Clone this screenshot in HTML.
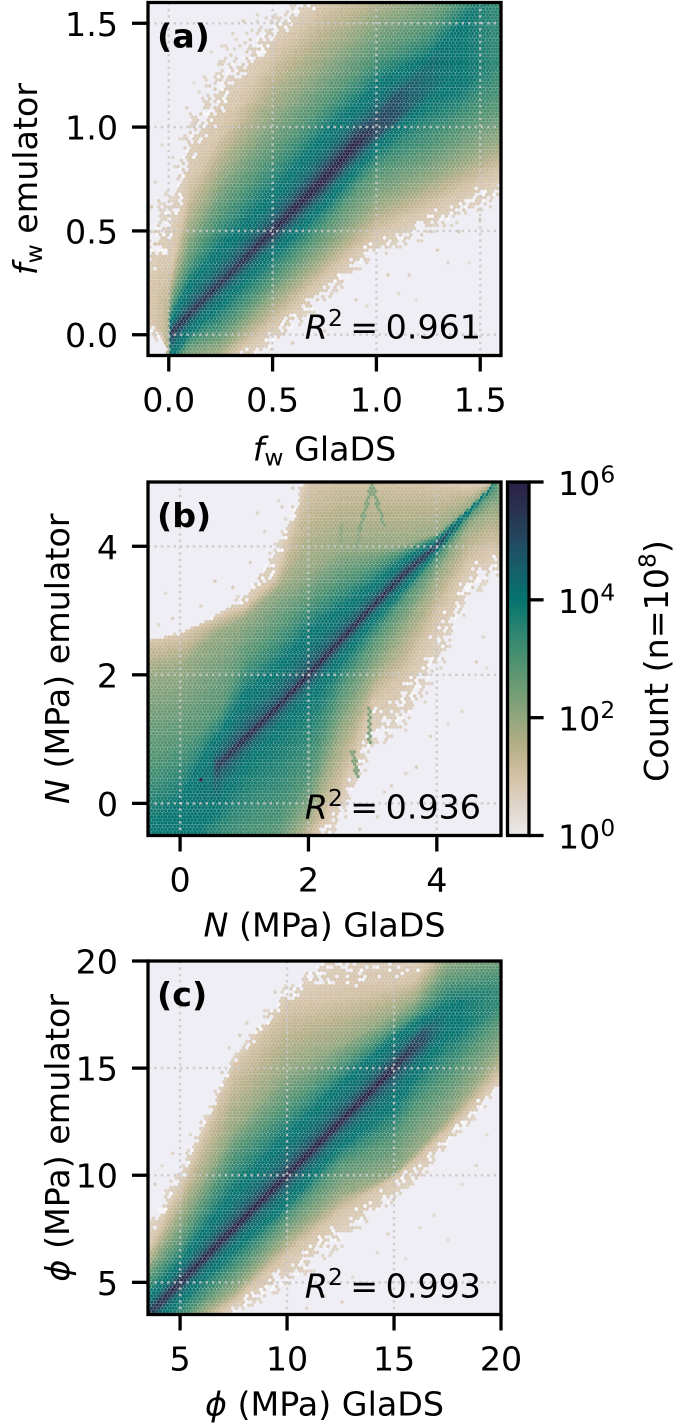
<!DOCTYPE html>
<html>
<head>
<meta charset="utf-8">
<title>Emulator versus GlaDS density plots</title>
<style>
html,body{margin:0;padding:0;background:#fff;}
svg{display:block;}
text{font-family:"DejaVu Sans","Liberation Sans",sans-serif;font-size:33.3px;fill:#000;}
.it{font-style:italic;}
</style>
</head>
<body>
<svg id="figure" xmlns="http://www.w3.org/2000/svg" width="684" height="1426" viewBox="0 0 684 1426"></svg>
<script>
// ---------- Panel (a): fw. Stations along x and the y of each count contour ----------
const aStations=[-0.1,-0.03,-0.005,0.012,0.1,0.25,0.5,0.75,0.9,1.0,1.25,1.6];
const aLow0=[-0.03,-0.04,-0.12,-0.3,-0.4,-0.23,-0.09,0.12,0.26,0.345,0.457,0.62];
const aLow1=[0.1,0.0,-0.1,-0.25,-0.2,-0.14,0.05,0.28,0.41,0.49,0.617,0.79];
const aLow2=[0.1,0.02,-0.1,-0.2,-0.11,-0.07,0.17,0.39,0.53,0.63,0.745,0.94];
const aLow3=[0.1,0.04,-0.1,-0.15,-0.04,0.024,0.26,0.52,0.7,0.79,0.9,1.13];
const aLow4=[0.1,0.06,-0.1,-0.12,0.01,0.136,0.38,0.617,0.78,0.89,1.11,1.3];
const aLow5=[0.1,0.08,-0.1,-0.02,0.08,0.23,0.465,0.7,0.865,0.96,1.16,1.42];
const aRidge=[0.15,0.12,0.0,0.01,0.1,0.25,0.5,0.753,0.92,1.0,1.22,1.55];
const aUp5=[0.15,0.14,0.02,0.025,0.125,0.275,0.535,0.81,0.975,1.05,1.3,1.65];
const aUp4=[0.15,0.16,0.04,0.08,0.25,0.42,0.68,0.97,1.1,1.21,1.34,1.7];
const aUp3=[0.15,0.18,0.06,0.13,0.345,0.585,0.86,1.11,1.25,1.34,1.47,1.8];
const aUp2=[0.15,0.2,0.08,0.2,0.49,0.76,1.08,1.32,1.45,1.53,1.64,1.9];
const aUp1=[0.2,0.28,0.3,0.3,0.71,0.97,1.34,1.59,1.66,1.7,1.8,2.0];
const aUp0=[0.55,0.7,0.75,0.75,1.13,1.4,1.56,1.77,1.85,1.95,2.0,2.2];
const aPeak=[0.9,1.2,1.5,5.7,5.6,5.6,5.9,6,6,5.2,4.6,3.4];
const aStrayX=[-0.08,-0.06,-0.04,-0.07,0.02,0.05,-0.05,0.08,0.12,0.1,0.17,0.15,0.2,0.22,0.28,0.31,0.36,0.4,0.42,0.44,0.9,0.95,1.05,1.1,1.15,1.2,1.3,1.35,1.4,1.5,1.55,1.45,0.75,0.8,0.6,0.35];
const aStrayY=[0.62,0.75,0.9,0.45,0.85,0.95,0.65,1.1,1.2,0.92,1.25,1.05,1.35,1.18,1.32,1.45,1.5,1.42,1.55,1.48,0.18,0.13,0.28,0.2,0.3,0.16,0.42,0.35,0.5,0.55,0.62,0.34,0.02,0.08,-0.05,-0.07];
const aStrayLevel=[0.8,0.5,0.4,0.9,0.5,0.4,0.7,0.6,0.4,0.7,0.5,0.7,0.4,0.8,0.6,0.6,0.7,0.8,0.5,0.5,0.6,0.4,0.7,0.5,0.6,0.3,0.7,0.5,0.8,0.7,0.6,0.3,0.6,0.5,0.7,0.4];
const aXTicks=[0,0.5,1,1.5];
const aYTicks=[0,0.5,1,1.5];
const aTickLabels=["0.0","0.5","1.0","1.5"];

// ---------- Panel (b): N ----------
const bStations=[-0.5,0,0.5,0.6,1,1.5,2,2.5,3,3.5,4,4.5,4.85,5];
const bLow0=[-1.8,-1.8,-1.8,-1.7,-1.5,-1.4,-1.1,-0.39,0.65,1.01,1.79,3.04,3.4,3.3];
const bLow1=[-1.6,-1.6,-1.6,-1.5,-1.3,-1.2,-0.65,0.18,1.58,2.0,2.93,3.76,3.97,3.9];
const bLow2=[-1.4,-1.4,-1.2,-1.15,-1.0,-0.9,-0.2,1.1,2.0,2.72,3.55,4.33,4.6,4.6];
const bLow3=[-1.2,-1.2,-0.9,-0.85,-0.6,-0.4,0.4,1.74,2.52,3.19,3.81,4.47,4.86,4.95];
const bLow4=[-0.8,-0.8,-0.2,-0.1,0.54,1.05,1.58,2.2,2.83,3.35,3.92,4.5,4.88,5.0];
const bLow5=[-0.7,-0.7,0.3,0.54,0.92,1.41,1.93,2.47,3.01,3.52,3.97,4.52,4.9,5.05];
const bRidge=[-0.55,-0.3,0.5,0.6,1.0,1.48,2.0,2.54,3.06,3.58,4.0,4.54,4.91,5.1];
const bUp5=[-0.55,-0.3,0.65,0.66,1.08,1.55,2.08,2.61,3.13,3.64,4.04,4.56,4.92,5.12];
const bUp4=[-0.4,0.05,0.96,1.05,1.69,2.1,2.67,3.03,3.4,3.81,4.1,4.57,4.93,5.14];
const bUp3=[0.6,0.9,1.32,1.4,2.2,2.67,3.14,3.45,3.7,3.94,4.15,4.59,4.94,5.16];
const bUp2=[2.0,2.1,2.6,2.65,2.88,3.3,3.6,3.97,4.0,4.02,4.2,4.61,4.95,5.18];
const bUp1=[2.52,2.62,2.86,2.9,3.06,3.5,5.0,5.2,5.2,5.1,5.0,4.9,4.97,5.2];
const bUp0=[2.56,2.66,2.92,2.96,3.35,4.1,5.3,5.4,5.4,5.3,5.3,5.1,5.0,5.22];
const bPeak=[4.1,4.1,4.4,5.6,5.9,6,6,6,5.9,5.7,5.3,4.0,3.8,2];
const bStrayX=[0.35,-0.35,-0.2,-0.1,0.3,0.55,0.8,1.1,1.3,1.45,1.6,1.75,3.3,3.5,3.7,3.9,4.2,4.4,4.6,3.1,2.8,4.7,4.8,2.4,2.6,3.2,1.55,1.2];
const bStrayY=[0.37,2.8,3.3,2.9,3.1,3.5,3.4,3.7,4.2,3.7,4.6,4.9,0.3,0.5,0.6,1.0,1.2,1.4,2.2,-0.2,-0.4,2.6,2.1,-0.45,-0.25,0.15,4.75,4.55];
const bStrayLevel=[6,0.5,0.4,0.6,0.6,0.7,0.7,0.6,0.5,0.8,0.6,0.7,0.6,0.5,0.7,0.6,0.4,0.5,0.6,0.6,0.7,0.5,0.4,0.7,0.6,0.5,0.4,0.5];
const bXTicks=[0,2,4];
const bYTicks=[0,2,4];
const bTickLabels=["0","2","4"];
// thin secondary filaments in the N panel: x list, y list, one filament per row
const bFilamentX=[[2.99,2.8,2.72],[2.99,3.18],[2.52,2.52,2.6],[2.96,2.95],[2.69,2.77]];
const bFilamentY=[[4.95,4.28,3.8],[4.95,4.33],[4.33,3.95,3.7],[1.48,0.96],[0.8,0.39]];
const bFilamentLevel=[2.2,2.2,2.1,2.2,2.2];

// ---------- Panel (c): phi ----------
const cStations=[3.5,5,7.5,10,12.5,15,16,17.5,20];
const cLow0=[1.0,1.5,3.4,4.3,6.45,8.48,9.27,11.1,14.0];
const cLow1=[1.6,2.4,4.1,6.3,8.3,9.9,10.7,12.1,14.7];
const cLow2=[2.0,2.9,4.58,7.1,9.1,10.05,11.1,12.7,15.8];
const cLow3=[2.4,3.3,5.5,8.0,10.5,11.77,13.2,14.6,17.4];
const cLow4=[2.8,4.1,6.45,8.64,11.3,13.17,14.6,16.45,17.8];
const cLow5=[3.25,4.75,7.25,9.72,12.22,14.72,15.8,17,18];
const cRidge=[3.5,5.0,7.5,10,12.5,15,16.06,17.4,18.17];
const cUp5=[3.75,5.25,7.8,10.32,12.82,15.32,16.35,17.7,18.4];
const cUp4=[4.27,5.98,9.27,11.9,14.27,16.45,17.1,17.9,18.7];
const cUp3=[5.1,6.77,11,13.3,15.2,16.9,17.55,19,19.5];
const cUp2=[5.7,8,12.2,15,16.14,17.55,18.17,20.05,20.5];
const cUp1=[6.45,9.27,15.05,17.9,18.4,18.9,19.2,21,21];
const cUp0=[8.2,10.5,15.6,19,21.5,21.5,21.5,21.5,21.5];
const cPeak=[5.5,5.9,6,6,6,6,5.3,4.2,3.4];
const cStrayX=[3.8,4.2,4.6,5.4,5.9,6.2,6.6,6.9,7.3,7.8,8.2,8.9,9.4,9.9,11,11.8,12.5,13.1,13.6,14.2,14.8,15.5,16.2,16.9,17.6,18.2,18.9,19.4,13,13.8,14.6];
const cStrayY=[9.5,10.4,11,11.8,12.6,12.9,14,14.8,15.9,16.6,17.2,17.6,18.5,18.9,3.8,4.4,4.1,5.3,4.9,6.4,7.2,6.1,7.5,8.2,6.9,9.6,10.5,11.8,18.5,18.3,17.8];
const cStrayLevel=[0.6,0.4,0.6,0.5,0.7,0.5,0.6,0.7,0.5,0.7,0.6,0.5,0.6,0.4,0.5,0.5,0.6,0.4,0.5,0.4,0.5,0.3,0.4,0.4,0.3,0.4,0.5,0.4,0.05,0.05,0.05];
const cXTicks=[5,10,15,20];
const cYTicks=[5,10,15,20];
const cTickLabels=["5","10","15","20"];

// ---------- Colour bar ----------
const cbarTicks=[0,2,4,6];
const cmapLevels=[0,0.5,1,1.5,2,2.5,3,3.5,4,4.5,5,5.5,6];
const cmapColors=["#eceaed","#dfd5ca","#d5c2a6","#b7b089","#92a67d","#6e9b75","#4c9170","#2a8470","#06746f","#15606a","#224a60","#29344f","#2b2047"];

const NS="http://www.w3.org/2000/svg";
const svg=document.getElementById('figure');
function rgb(h){return [parseInt(h.substr(1,2),16),parseInt(h.substr(3,2),16),parseInt(h.substr(5,2),16)];}
function colorOf(l){
  l=Math.max(0,Math.min(6,l));
  var i=Math.min(cmapLevels.length-2,Math.floor(l/0.5));
  var t=(l-cmapLevels[i])/(cmapLevels[i+1]-cmapLevels[i]);
  var a=rgb(cmapColors[i]),b=rgb(cmapColors[i+1]);
  return 'rgb('+Math.round(a[0]+(b[0]-a[0])*t)+','+Math.round(a[1]+(b[1]-a[1])*t)+','+Math.round(a[2]+(b[2]-a[2])*t)+')';
}
function el(tag,attrs,parent){
  var e=document.createElementNS(NS,tag);
  for(var k in attrs)e.setAttribute(k,attrs[k]);
  (parent||svg).appendChild(e);
  return e;
}
function lerpAt(xs,ys,x){
  if(x<=xs[0])return ys[0];
  for(var i=1;i<xs.length;i++){
    if(x<=xs[i]){var t=(x-xs[i-1])/(xs[i]-xs[i-1]);return ys[i-1]+(ys[i]-ys[i-1])*t;}
  }
  return ys[ys.length-1];
}
// fixed per-bin texture value: only decides which very-low-count bins are occupied
function texture(i,j,k){var v=Math.sin(i*12.9898+j*78.233+k*37.719)*43758.5453;return v-Math.floor(v);}
// Adds text built from runs: [string, {italic, script:'sup'|'sub'}]
function richText(parent,x,y,anchor,runs,name,rotate){
  var t=el('text',{x:x,y:y,'text-anchor':anchor},parent);
  if(rotate)t.setAttribute('transform','rotate(-90 '+x+' '+y+')');
  
  
  var shift=0;
  runs.forEach(function(r){
    var s=document.createElementNS(NS,'tspan');
    s.textContent=r[0];
    var o=r[1]||{};
    if(o.italic)s.setAttribute('font-style','italic');
    if(o.dx)s.setAttribute('dx',o.dx);
    var target=o.script==='sup'?-12.5:(o.script==='sub'?5:0);
    if(target!==shift){s.setAttribute('dy',target-shift);shift=target;}
    if(o.script)s.setAttribute('font-size','23.3');
    t.appendChild(s);
  });
  return t;
}

function drawPanel(p){
  var g=el('g',{});
  
  
  var W=p.right-p.left,H=p.bottom-p.top;
  var sx=function(v){return p.left+(v-p.xMin)/(p.xMax-p.xMin)*W;};
  var sy=function(v){return p.bottom-(v-p.yMin)/(p.yMax-p.yMin)*H;};
  var clipId='clip-'+p.key;
  var defs=el('defs',{},g);
  var cp=el('clipPath',{id:clipId},defs);
  el('rect',{x:p.left,y:p.top,width:W,height:H},cp);
  var bg=el('rect',{x:p.left,y:p.top,width:W,height:H,fill:'#efeef4'},g);
  
  
  var marks=el('g',{'clip-path':'url(#'+clipId+')'},g);

  var cols=[p.low0,p.low1,p.low2,p.low3,p.low4,p.low5,p.ridge,p.up5,p.up4,p.up3,p.up2,p.up1,p.up0];
  var base=[0,1,2,3,4,5,6,5,4,3,2,1,0];
  var nx=100,ny=57;
  var dx=(p.xMax-p.xMin)/nx,dy=(p.yMax-p.yMin)/ny;
  var pdx=W/nx,pdy=H/ny;
  var buckets={};
  function hexPath(px,py){
    var k=0.95,a=pdx*0.5*k,b=pdy/6*k;
    return 'M'+(px+a).toFixed(1)+' '+(py-b).toFixed(1)+'v'+(2*b).toFixed(2)+'l'+(-a).toFixed(2)+' '+b.toFixed(2)+'l'+(-a).toFixed(2)+' '+(-b).toFixed(2)+'v'+(-2*b).toFixed(2)+'l'+a.toFixed(2)+' '+(-b).toFixed(2)+'z';
  }
  function addHex(x,y,level){
    var b=level<0?-1:Math.round(Math.min(6,level)*10);
    (buckets[b]=buckets[b]||[]).push(hexPath(sx(x),sy(y)));
  }
  function profileAt(x){
    var peak=lerpAt(p.stations,p.peak,x),pos=[],lev=[],prev=-1e9;
    for(var i=0;i<13;i++){
      var v=lerpAt(p.stations,cols[i],x);
      if(v<prev)v=prev;
      prev=v;
      pos.push(v);
      lev.push(i===6?peak:Math.min(base[i],peak));
    }
    return {pos:pos,lev:lev};
  }
  function levelIn(pr,y){
    var pos=pr.pos,lev=pr.lev;
    if(y<=pos[0]||y>=pos[12])return -1;
    for(var i=1;i<13;i++){
      if(y<=pos[i]){
        var d=pos[i]-pos[i-1],l;
        if(d<=0)l=lev[i];
        else l=lev[i-1]+(lev[i]-lev[i-1])*(y-pos[i-1])/d;
        // the teal plateau holds around 10^4 and darkens only close to the ridge
        if(l>4&&l<5)l=4+Math.pow(l-4,2.2);
        return l;
      }
    }
    return -1;
  }
  // hexagonal bins: two staggered lattices
  [0,1].forEach(function(lattice){
    var off=lattice*0.5;
    for(var i=-1;i<=nx+1;i++){
      var x=p.xMin+(i+off)*dx;
      var pr=profileAt(x);
      for(var j=-1;j<=ny+1;j++){
        var y=p.yMin+(j+off)*dy;
        var l=levelIn(pr,y);
        // filaments raise the count of bins lying on them
        if(p.filX){
          for(var f=0;f<p.filX.length;f++){
            var fx=p.filX[f],fy=p.filY[f];
            for(var s=1;s<fx.length;s++){
              var ax=sx(fx[s-1]),ay=sy(fy[s-1]),bx=sx(fx[s]),by=sy(fy[s]);
              var qx=sx(x),qy=sy(y),vx=bx-ax,vy=by-ay;
              var t=((qx-ax)*vx+(qy-ay)*vy)/(vx*vx+vy*vy);
              t=Math.max(0,Math.min(1,t));
              var ex=ax+t*vx-qx,ey=ay+t*vy-qy;
              if(ex*ex+ey*ey<3.6&&l<p.filLevel[f])l=p.filLevel[f];
            }
          }
        }
        if(l<0)continue;
        if(l<1){
          // below about one count per bin, only a share of the bins are occupied
          if(texture(i,j,lattice)<l*1.1)addHex(x,y,0.45+0.55*l);
          else if(l>0.3&&texture(j,i,lattice+2)<0.3)addHex(x,y,-1);
          continue;
        }
        addHex(x,y,l);
      }
    }
  });
  // isolated bins outside the main cloud, snapped to the hexagonal lattice
  p.strayX.forEach(function(x,i){
    var y=p.strayY[i];
    var ci=Math.round((x-p.xMin)/dx),cj=Math.round((y-p.yMin)/dy);
    addHex(p.xMin+ci*dx,p.yMin+cj*dy,p.strayLevel[i]);
  });
  Object.keys(buckets).map(Number).sort(function(a,b){return a-b;}).forEach(function(b){
    var path=el('path',{d:buckets[b].join(''),fill:b<0?'#f7f6f8':colorOf(b/10)},marks);
    
    
  });

  // grid
  var grid=el('g',{stroke:'#c8c8c8','stroke-width':2.4,'stroke-dasharray':'2.4 4','stroke-opacity':0.85,'clip-path':'url(#'+clipId+')'},g);
  
  
  p.xTicks.forEach(function(v){
    if(v>=p.xMax)return;
    var line=el('line',{x1:sx(v),x2:sx(v),y1:p.top,y2:p.bottom},grid);
    
    
  });
  p.yTicks.forEach(function(v){
    if(v>=p.yMax)return;
    var line=el('line',{y1:sy(v),y2:sy(v),x1:p.left,x2:p.right},grid);
    
    
  });

  // frame
  var frame=el('rect',{x:p.left,y:p.top,width:W,height:H,fill:'none',stroke:'#000','stroke-width':3.3},g);
  
  

  // ticks + labels
  p.xTicks.forEach(function(v,i){
    var tick=el('line',{x1:sx(v),x2:sx(v),y1:p.bottom,y2:p.bottom+16,stroke:'#000','stroke-width':3.3},g);
    
    
    var t=el('text',{x:sx(v),y:p.bottom+56,'text-anchor':'middle'},g);
    t.textContent=p.tickLabels[i];
    
    
  });
  p.yTicks.forEach(function(v,i){
    var tick=el('line',{x1:p.left-16,x2:p.left,y1:sy(v),y2:sy(v),stroke:'#000','stroke-width':3.3},g);
    
    
    var t=el('text',{x:118,y:sy(v)+12.5,'text-anchor':'end'},g);
    t.textContent=p.tickLabels[i];
    
    
  });
  // annotations
  var tag=el('text',{x:p.left+9,y:p.top+45,'font-weight':'bold'},g);
  tag.textContent=p.tag;
  
  
  richText(g,481,p.bottom-17,'end',[['R',{italic:true}],['2',{script:'sup'}],['=',{dx:7.5}],[p.r2,{dx:7.5}]],p.key+'-r-squared');
  richText(g,(p.left+p.right)/2,p.bottom+p.xlabelDrop,'middle',p.xlabel,p.key+'-x-axis-title');
  richText(g,p.ylabelX,(p.top+p.bottom)/2,'middle',p.ylabel,p.key+'-y-axis-title',true);
}

drawPanel({key:'panel-a',name:'panel-a-fw',tag:'(a)',r2:'0.961',left:148,right:501,top:2.5,bottom:355.5,
  xMin:-0.1,xMax:1.6,yMin:-0.1,yMax:1.6,stations:aStations,low0:aLow0,low1:aLow1,low2:aLow2,low3:aLow3,low4:aLow4,low5:aLow5,ridge:aRidge,up5:aUp5,up4:aUp4,up3:aUp3,up2:aUp2,up1:aUp1,up0:aUp0,peak:aPeak,
  strayX:aStrayX,strayY:aStrayY,strayLevel:aStrayLevel,xTicks:aXTicks,yTicks:aYTicks,tickLabels:aTickLabels,
  xlabelDrop:105,ylabelX:37,
  xlabel:[['f',{italic:true}],['w',{script:'sub'}],[' GlaDS',{}]],
  ylabel:[['f',{italic:true}],['w',{script:'sub'}],[' emulator',{}]]});
drawPanel({key:'panel-b',name:'panel-b-effective-pressure',tag:'(b)',r2:'0.936',left:148,right:501,top:482,bottom:835.5,
  xMin:-0.5,xMax:5,yMin:-0.5,yMax:5,stations:bStations,low0:bLow0,low1:bLow1,low2:bLow2,low3:bLow3,low4:bLow4,low5:bLow5,ridge:bRidge,up5:bUp5,up4:bUp4,up3:bUp3,up2:bUp2,up1:bUp1,up0:bUp0,peak:bPeak,
  strayX:bStrayX,strayY:bStrayY,strayLevel:bStrayLevel,xTicks:bXTicks,yTicks:bYTicks,tickLabels:bTickLabels,
  filX:bFilamentX,filY:bFilamentY,filLevel:bFilamentLevel,xlabelDrop:101,ylabelX:69,
  xlabel:[['N',{italic:true}],[' (MPa) GlaDS',{}]],
  ylabel:[['N',{italic:true}],[' (MPa) emulator',{}]]});
drawPanel({key:'panel-c',name:'panel-c-hydraulic-potential',tag:'(c)',r2:'0.993',left:148,right:501,top:961,bottom:1314.5,
  xMin:3.5,xMax:20,yMin:3.5,yMax:20,stations:cStations,low0:cLow0,low1:cLow1,low2:cLow2,low3:cLow3,low4:cLow4,low5:cLow5,ridge:cRidge,up5:cUp5,up4:cUp4,up3:cUp3,up2:cUp2,up1:cUp1,up0:cUp0,peak:cPeak,
  strayX:cStrayX,strayY:cStrayY,strayLevel:cStrayLevel,xTicks:cXTicks,yTicks:cYTicks,tickLabels:cTickLabels,
  xlabelDrop:101,ylabelX:69,
  xlabel:[['\u03d5',{italic:true}],[' (MPa) GlaDS',{}]],
  ylabel:[['\u03d5',{italic:true}],[' (MPa) emulator',{}]]});

// colour bar
(function(){
  var left=507.5,right=529,top=482,bottom=835.5;
  var g=el('g',{});
  
  
  var n=118,h=(bottom-top)/n;
  for(var i=0;i<n;i++){
    var r=el('rect',{x:left,width:right-left,y:(bottom-(i+1)*h).toFixed(2),height:(h+0.4).toFixed(2),fill:colorOf((i+0.5)/n*6)},g);
    
    
  }
  var f=el('rect',{x:left,y:top,width:right-left,height:bottom-top,fill:'none',stroke:'#000','stroke-width':3.3},g);
  
  
  cbarTicks.forEach(function(v){
    var y=bottom-v/6*(bottom-top);
    var tick=el('line',{x1:right,x2:right+14.6,y1:y,y2:y,stroke:'#000','stroke-width':3.3},g);
    
    
    richText(g,558,y+13,'start',[['10',{}],[String(v),{script:'sup'}]],'colorbar-tick-label');
  });
  richText(g,668,661,'middle',[['Count (n=10',{}],['8',{script:'sup'}],[')',{}]],'colorbar-title',true);
})();
</script>
</body>
</html>
